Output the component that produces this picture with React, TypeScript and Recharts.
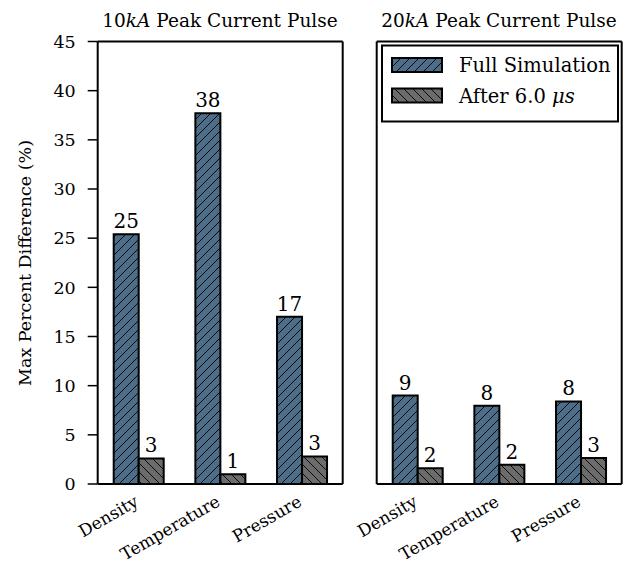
import React from 'react';
import { BarChart, Bar, XAxis, YAxis, LabelList, ReferenceLine } from 'recharts';

// Quantities compared in each panel
const categories = ['Density', 'Temperature', 'Pressure'];

// Max percent difference (%) for the 10 kA peak current pulse
const full10 = [25.4, 37.7, 17.0];
const after10 = [2.6, 1.0, 2.8];

// Max percent difference (%) for the 20 kA peak current pulse
const full20 = [9.0, 7.95, 8.4];
const after20 = [1.6, 1.95, 2.65];

const yTicks = [0, 5, 10, 15, 20, 25, 30, 35, 40, 45];

const seriesNames = ['Full Simulation', 'After 6.0'];

const FONT = 'DejaVu Serif';
const BLUE = '#4e6d89';
const GREY = '#6c6c6c';

const rows10 = categories.map((name, i) => ({ name, full: full10[i], after: after10[i] }));
const rows20 = categories.map((name, i) => ({ name, full: full20[i], after: after20[i] }));

const PLOT_TOP = 41.5;
const PLOT_BOTTOM = 484;
const CHART_H = 566;

const XTick = (props: any) => {
  const { x, y, payload } = props;
  return (
    <text
      transform={`translate(${x + 1},${y + 21}) rotate(-30)`}
      textAnchor="end"
      fontSize={17}
      fontFamily={FONT}
      fill="#000"
    >
      {payload.value}
    </text>
  );
};

const roundLabel = (v: any) => Math.round(Number(v));

const axisLine = { stroke: '#000', strokeWidth: 2 };
const tickLine = { stroke: '#000', strokeWidth: 1.5 };

function Panel({ data, width, leftAxisWidth, rightAxisWidth, rightMargin, showLabels }: any) {
  return (
    <BarChart
      width={width}
      height={CHART_H}
      data={data}
      margin={{ top: PLOT_TOP, right: rightMargin, bottom: 0, left: 0 }}
      barSize={25}
      barGap={0}
    >
      <XAxis
        dataKey="name"
        interval={0}
        tickLine={false}
        tickSize={0}
        tickMargin={0}
        axisLine={axisLine}
        height={CHART_H - PLOT_BOTTOM}
        tick={<XTick />}
      />
      <YAxis
        domain={[0, 45]}
        ticks={yTicks}
        interval={0}
        width={leftAxisWidth}
        tickSize={10}
        tickMargin={12}
        axisLine={axisLine}
        tickLine={tickLine}
        tick={showLabels ? { fontSize: 17.5, fill: '#000', fontFamily: FONT } : false}
      />
      <YAxis
        yAxisId="r"
        orientation="right"
        domain={[0, 45]}
        ticks={yTicks}
        interval={0}
        width={rightAxisWidth}
        tickSize={10}
        axisLine={axisLine}
        tickLine={tickLine}
        tick={false}
      />
      <ReferenceLine y={45} stroke="#000" strokeWidth={2} />
      <Bar dataKey="full" name={seriesNames[0]} fill="url(#hatchFull)" stroke="#000" strokeWidth={2} isAnimationActive={false}>
        <LabelList dataKey="full" position="top" offset={6} formatter={roundLabel} fontSize={20} fill="#000" fontFamily={FONT} />
      </Bar>
      <Bar dataKey="after" name={seriesNames[1]} fill="url(#hatchAfter)" stroke="#000" strokeWidth={2} isAnimationActive={false}>
        <LabelList dataKey="after" position="top" offset={6} formatter={roundLabel} fontSize={20} fill="#000" fontFamily={FONT} />
      </Bar>
    </BarChart>
  );
}

export default function App() {
  return (
    <div style={{ position: 'absolute', left: 0, top: 0, width: 624, height: 566, background: '#fff', overflow: 'hidden' }}>
      <div style={{ position: 'absolute', left: 0, top: 0 }}>
        <Panel data={rows10} width={360} leftAxisWidth={97.7} rightAxisWidth={10} rightMargin={7.3} showLabels />
      </div>
      <div style={{ position: 'absolute', left: 270, top: 0 }}>
        <Panel data={rows20} width={354} leftAxisWidth={106.7} rightAxisWidth={2.3} rightMargin={0} showLabels={false} />
      </div>
      <svg width={624} height={566} style={{ position: 'absolute', left: 0, top: 0, pointerEvents: 'none' }} fontFamily={FONT}>
        <defs>
          <pattern id="hatchFull" patternUnits="userSpaceOnUse" width={9} height={9}>
            <rect width={9} height={9} fill={BLUE} />
            <path d="M0,9 L9,0 M-1,1 L1,-1 M8,10 L10,8" stroke="#000" strokeWidth={0.9} />
          </pattern>
          <pattern id="hatchAfter" patternUnits="userSpaceOnUse" width={9} height={9}>
            <rect width={9} height={9} fill={GREY} />
            <path d="M0,0 L9,9 M-1,8 L1,10 M8,-1 L10,1" stroke="#000" strokeWidth={0.9} />
          </pattern>
        </defs>

        <text x={220} y={27} textAnchor="middle" fontSize={18.5} fill="#000">
          10<tspan fontStyle="italic">kA</tspan> Peak Current Pulse
        </text>
        <text x={499} y={27} textAnchor="middle" fontSize={18.5} fill="#000">
          20<tspan fontStyle="italic">kA</tspan> Peak Current Pulse
        </text>

        <text transform="translate(31,263) rotate(-90)" textAnchor="middle" fontSize={17.5} fill="#000">
          Max Percent Difference (%)
        </text>

        <g>
          <rect x={382} y={45.5} width={236} height={76} fill="#fff" stroke="#000" strokeWidth={2} />
          <rect x={392} y={58} width={50} height={14} fill="url(#hatchFull)" stroke="#000" strokeWidth={2} />
          <text x={459} y={72} fontSize={19.5} fill="#000">{seriesNames[0]}</text>
          <rect x={392} y={88.5} width={50} height={14} fill="url(#hatchAfter)" stroke="#000" strokeWidth={2} />
          <text x={459} y={102.5} fontSize={19.5} fill="#000">
            {seriesNames[1]} <tspan fontStyle="italic">μs</tspan>
          </text>
        </g>
      </svg>
    </div>
  );
}
